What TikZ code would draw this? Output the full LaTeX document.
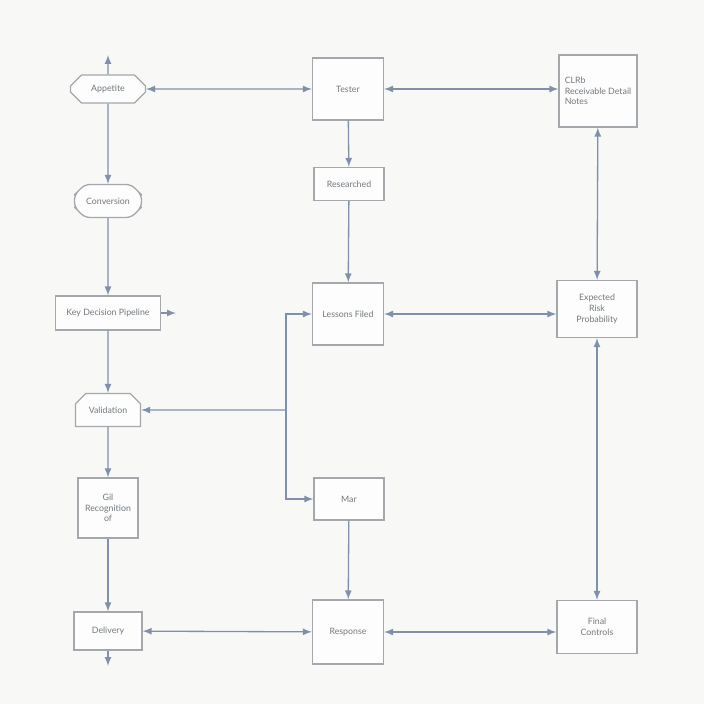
\documentclass[tikz,border=0pt]{standalone}
\usepackage{fontspec}
\setmainfont{Lato}
\usepackage{tikz}
\usetikzlibrary{shapes.misc, arrows}
\definecolor{customLine}{HTML}{8090AA}
\definecolor{customBox}{HTML}{A4A7AB}
\definecolor{customText}{HTML}{74787E}
\definecolor{customPaper}{HTML}{F8F9F7}

\begin{document}
\begin{tikzpicture} [
    x=0.02cm, y=-0.02cm,
    box/.style={rectangle, draw=customBox, line width=0.75pt, inner sep=0pt, fill=white!60!customPaper,
        text=customText, font=\fontsize{5}{6}\selectfont, align=center},
    cutBox/.style={box, chamfered rectangle, chamfered rectangle xsep=4pt, chamfered rectangle ysep=4pt},
    topCutBox/.style={cutBox, chamfered rectangle corners={north west, north east}},
    arrow/.style={line width=0.75pt, -latex, color=customLine},
    twoWay/.style={line width=0.75pt, latex-latex, color=customLine}
]
    \fill[customPaper] (0, 0) rectangle (704, 704);

    % left column
    \node[cutBox, minimum width=1.5cm, minimum height=0.56cm] (appetite) at (108, 89) {Appetite};
    \node[cutBox, rounded corners=3pt, minimum width=1.34cm, minimum height=0.66cm] (conversion) at (108, 201) {Conversion};
    \node[box, minimum width=2.1cm, minimum height=0.68cm] (pipeline) at (108, 313) {Key Decision Pipeline};
    \node[topCutBox, minimum width=1.3cm, minimum height=0.66cm] (validation) at (108, 410) {Validation};
    \node[box, minimum width=1.2cm, minimum height=1.2cm] (recognition) at (108, 508) {Gil\\Recognition\\of};
    \node[box, minimum width=1.36cm, minimum height=0.76cm] (delivery) at (108, 631) {Delivery};

    % middle column
    \node[box, minimum width=1.42cm, minimum height=1.24cm] (tester) at (348, 89) {Tester};
    \node[box, minimum width=1.4cm, minimum height=0.66cm] (researched) at (349, 184) {Researched};
    \node[box, minimum width=1.42cm, minimum height=1.24cm] (lessons) at (348, 314) {Lessons Filed};
    \node[box, minimum width=1.4cm, minimum height=0.84cm] (mar) at (349, 499) {Mar};
    \node[box, minimum width=1.42cm, minimum height=1.28cm] (response) at (348, 632) {Response};

    % right column
    \node[box, minimum width=1.56cm, minimum height=1.44cm, align=left] (notes) at (598, 91) {CLRb\\Receivable Detail\\Notes};
    \node[box, minimum width=1.6cm, minimum height=1.14cm] (risk) at (597, 309) {Expected\\Risk\\Probability};
    \node[box, minimum width=1.6cm, minimum height=1.06cm] (controls) at (597, 627) {Final\\Controls};

    % free ends
    \coordinate (topEnd) at (108, 55);
    \coordinate (bottomEnd) at (108, 666);
    \coordinate (pipelineEnd) at (176, 313);
    \coordinate (branch) at (286, 410);

    % left chain
    \draw [arrow] (appetite) -- (topEnd);
    \draw [arrow] (appetite) -- (conversion);
    \draw [arrow] (conversion) -- (pipeline);
    \draw [arrow] (pipeline) -- (pipelineEnd);
    \draw [arrow] (pipeline) -- (validation);
    \draw [arrow] (validation) -- (recognition);
    \draw [arrow] (recognition) -- (delivery);
    \draw [arrow] (delivery) -- (bottomEnd);

    % middle chain
    \draw [arrow] (tester) -- (researched);
    \draw [arrow] (researched) -- (lessons);
    \draw [arrow] (mar) -- (response);

    % branch
    \draw [arrow] (branch) -- (validation);
    \draw [arrow] (branch) |- (lessons);
    \draw [arrow] (branch) |- (mar);

    % two way links
    \draw [twoWay] (appetite) -- (tester);
    \draw [twoWay] (tester) -- (notes.west |- tester);
    \draw [twoWay] (lessons) -- (risk.west |- lessons);
    \draw [twoWay] (delivery) -- (response);
    \draw [twoWay] (response) -- (controls.west |- response);
    \draw [twoWay] (notes) -- (risk);
    \draw [twoWay] (risk) -- (controls);

\end{tikzpicture}
\end{document}
